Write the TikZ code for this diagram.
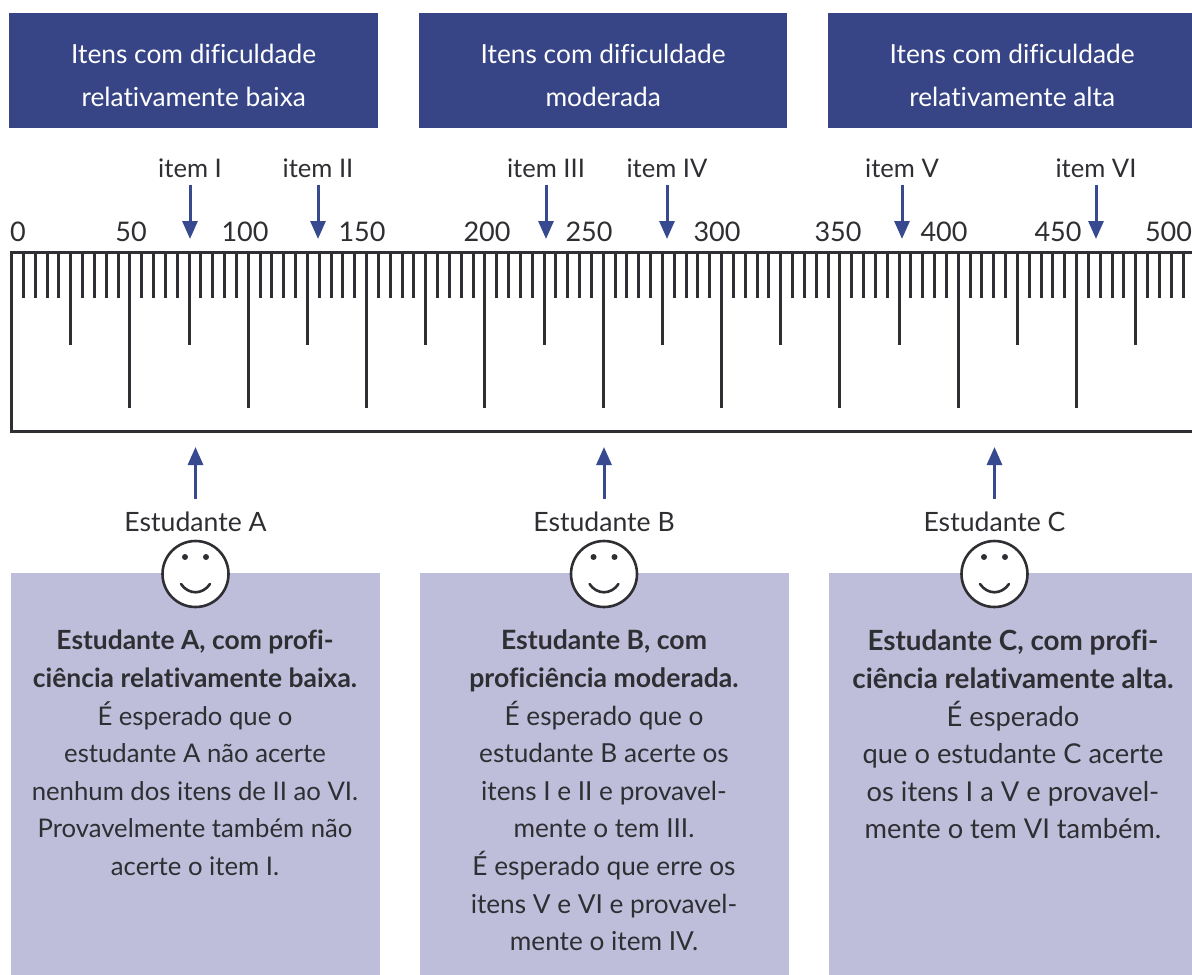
\documentclass[tikz,border=0pt]{standalone}
\usepackage{fontspec}
\setmainfont{Lato}[Ligatures=NoCommon]
\usetikzlibrary{arrows.meta,calc}
\definecolor{hdr}{HTML}{374587}
\definecolor{pan}{HTML}{BEBEDB}
\definecolor{ink}{HTML}{2E2E33}
\definecolor{arr}{HTML}{374A8F}
\newcommand{\hs}{\rule{0pt}{29pt}}
\tikzset{
 x=1pt,y=-1pt,
 hdrbox/.style={fill=hdr,draw=none,text=white,align=center,font=\fontsize{26.3}{43}\selectfont,inner sep=0pt,anchor=north west,minimum height=115pt},
 panbox/.style={fill=pan,draw=none,inner sep=0pt,anchor=north west,minimum height=402pt},
 bodytxt/.style={text=ink,align=center,inner sep=0pt,anchor=north},
 lbl/.style={text=ink,font=\fontsize{25.6}{28}\selectfont,inner sep=0pt},
 numlbl/.style={text=ink,font=\fontsize{27}{28}\selectfont,inner sep=0pt},
 stulbl/.style={text=ink,font=\fontsize{26.6}{28}\selectfont,inner sep=0pt},
 itemarrow/.style={draw=arr,line width=3pt,-{Triangle[length=18pt,width=15pt]},shorten <=7pt},
 studarrow/.style={draw=arr,line width=3pt,-{Triangle[length=18pt,width=15pt]},shorten <=13pt},
 ruleline/.style={draw=ink,line width=3pt},
 tick/.style={draw=ink,line width=3pt},
 smile/.style={circle,draw=ink,fill=white,line width=2.6pt,minimum size=66pt,inner sep=0pt},
}
\begin{document}
\begin{tikzpicture}
\useasboundingbox (0,0) rectangle (1192,975);
\clip (0,0) rectangle (1192,975);
% headers
\node[hdrbox,minimum width=369pt] (h1) at (9,13) {\hs Itens com dificuldade\\relativamente baixa};
\node[hdrbox,minimum width=368pt] (h2) at (419,13) {\hs Itens com dificuldade\\moderada};
\node[hdrbox,minimum width=368pt] (h3) at (828,13) {\hs Itens com dificuldade\\relativamente alta};
% ruler
\draw[ruleline] (1200,252.5) -- (11,252.5) -- (11,431) -- (1200,431);
\foreach \i in {1,...,99}{
  \pgfmathsetmacro\xx{round(11+\i*11.835)}
  \pgfmathtruncatemacro\mten{mod(\i,10)}
  \pgfmathtruncatemacro\mfive{mod(\i,5)}
  \ifnum\mten=0
    \draw[tick] (\xx,252.5) -- (\xx,408);
  \else\ifnum\mfive=0
    \draw[tick] (\xx,252.5) -- (\xx,344.5);
  \else
    \draw[tick] (\xx,252.5) -- (\xx,297.5);
  \fi\fi
}
% scale labels
\foreach \v/\px in {0/18,50/131,100/245,150/362,200/487,250/589,300/717,350/838,400/944,450/1058,500/1168.5}
  \node[numlbl] (s\v) at (\px,232) {\v};
% items
\foreach \n/\t/\px in {a/item I/190,b/item II/318,c/item III/546,d/item IV/667,e/item V/902,f/item VI/1096}{
  \node[lbl] (it\n) at (\px,168) {\t};
  \coordinate (ie\n) at (\px,239);
  \draw[itemarrow] (it\n) -- (ie\n);
}
% panels
\node[panbox,minimum width=369pt] (p1) at (11,573) {};
\node[panbox,minimum width=369pt] (p2) at (420,573) {};
\node[panbox,minimum width=363pt] (p3) at (829,573) {};
% students
\foreach \n/\t/\px in {A/Estudante A/195.5,B/Estudante B/604,C/Estudante C/994.5}{
  \node[stulbl] (st\n) at (\px,522) {\t};
  \coordinate (se\n) at (\px,447);
  \draw[studarrow] (st\n) -- (se\n);
  \node[smile] (f\n) at (\px,574) {};
  \fill[ink] ($(\px,574)+(-10.5,-17)$) circle (3pt);
  \fill[ink] ($(\px,574)+(10.5,-17)$) circle (3pt);
  \draw[ink,line width=2.6pt,line cap=round] ($(\px,574)+(-14.5,10)$) .. controls ($(\px,574)+(-7,21)$) and ($(\px,574)+(7,21)$) .. ($(\px,574)+(14.5,10)$);
}
% panel text
\node[bodytxt,font=\fontsize{25.7}{37.6}\selectfont] (t1) at (195,630) {{\fontsize{26.4}{37.6}\selectfont\bfseries Estudante A, com profi-}\\{\fontsize{26.4}{37.6}\selectfont\bfseries ciência relativamente baixa.}\\É esperado que o\\estudante A não acerte\\nenhum dos itens de II ao VI.\\Provavelmente também não\\acerte o item I.};
\node[bodytxt,font=\fontsize{26.2}{37.6}\selectfont] (t2) at (604,630) {{\fontsize{26.6}{37.6}\selectfont\bfseries Estudante B, com}\\{\fontsize{26.6}{37.6}\selectfont\bfseries proficiência moderada.}\\É esperado que o\\estudante B acerte os\\itens I e II e provavel-\\mente o tem III.\\É esperado que erre os\\itens V e VI e provavel-\\mente o item IV.};
\node[bodytxt,font=\fontsize{27.3}{37.6}\selectfont] (t3) at (1013,630) {{\fontsize{27.8}{37.6}\selectfont\bfseries Estudante C, com profi-}\\{\fontsize{27.8}{37.6}\selectfont\bfseries ciência relativamente alta.}\\É esperado\\que o estudante C acerte\\os itens I a V e provavel-\\mente o tem VI também.};
\end{tikzpicture}
\end{document}
